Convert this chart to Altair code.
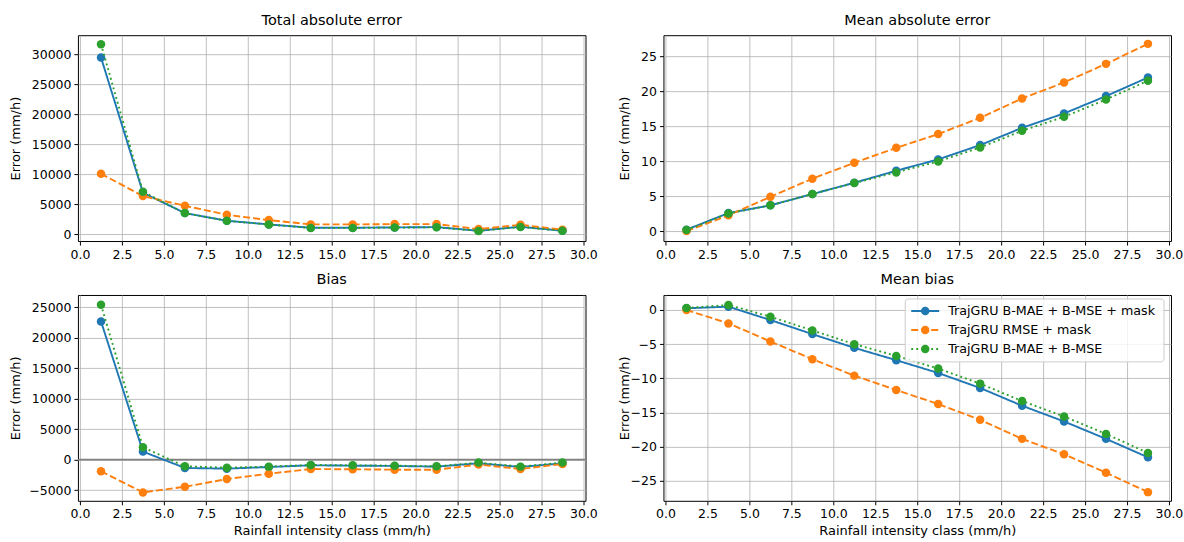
import altair as alt
import pandas as pd

# ---------------- data ----------------
x_classes = [1.25, 3.75, 6.25, 8.75, 11.25, 13.75, 16.25, 18.75, 21.25, 23.75, 26.25, 28.75]
x_ticks = [0, 2.5, 5, 7.5, 10, 12.5, 15, 17.5, 20, 22.5, 25, 27.5, 30]

series_names = ["TrajGRU B-MAE + B-MSE + mask", "TrajGRU RMSE + mask", "TrajGRU B-MAE + B-MSE"]
series_colors = ["#1f77b4", "#ff7f0e", "#2ca02c"]
series_dashes = [[1, 0], [7, 3], [1.9, 3.1]]

tae_blue = [29500, 6950, 3555, 2280, 1670, 1110, 1110, 1170, 1220, 610, 1280, 610]
tae_orange = [10110, 6390, 4780, 3280, 2390, 1670, 1670, 1720, 1720, 890, 1610, 780]
tae_green = [31720, 7110, 3555, 2270, 1650, 1090, 1090, 1140, 1190, 590, 1250, 600]

mae_blue = [0.19, 2.57, 3.67, 5.29, 6.90, 8.62, 10.24, 12.29, 14.76, 16.81, 19.29, 21.95]
mae_orange = [0.0, 2.24, 4.90, 7.48, 9.76, 11.90, 13.86, 16.19, 18.95, 21.24, 23.90, 26.76]
mae_green = [0.14, 2.52, 3.67, 5.29, 6.86, 8.38, 9.95, 11.95, 14.33, 16.33, 18.81, 21.48]

bias_blue = [22690, 1320, -1370, -1480, -1210, -930, -990, -1040, -1150, -600, -1210, -600]
bias_orange = [-1920, -5380, -4450, -3190, -2310, -1540, -1590, -1650, -1650, -820, -1540, -710]
bias_green = [25440, 2030, -1100, -1320, -1150, -880, -930, -990, -1100, -490, -1150, -490]

mb_blue = [0.25, 0.49, -1.47, -3.53, -5.54, -7.35, -9.22, -11.42, -14.02, -16.32, -18.87, -21.57]
mb_orange = [0.0, -1.96, -4.61, -7.21, -9.61, -11.72, -13.77, -16.08, -18.87, -21.13, -23.82, -26.67]
mb_green = [0.29, 0.74, -0.98, -2.99, -5.00, -6.72, -8.58, -10.78, -13.33, -15.59, -18.14, -20.93]

tae_ticks = [0, 5000, 10000, 15000, 20000, 25000, 30000]
mae_ticks = [0, 5, 10, 15, 20, 25]
bias_ticks = [-5000, 0, 5000, 10000, 15000, 20000, 25000]
mb_ticks = [-25, -20, -15, -10, -5, 0]
zero_level = [0]

FONT = "DejaVu Sans"
W, H = 508, 206


def panel(title, values, ydomain, yticks, bottom, left_col, zero_rule=False, legend=False):
    if bottom:
        xaxis = alt.Axis(values=x_ticks, format=".1f", title="Rainfall intensity class (mm/h)",
                         titlePadding=4)
    else:
        xaxis = alt.Axis(values=x_ticks, format=".1f", title=None)
    if left_col:
        yaxis = alt.Axis(values=yticks, format="d", title="Error (mm/h)",
                         minExtent=48, maxExtent=48, titlePadding=7)
    else:
        yaxis = alt.Axis(values=yticks, format="d", title="Error (mm/h)",
                         minExtent=26, maxExtent=26, titlePadding=6)
    xenc = alt.X("x:Q", scale=alt.Scale(domain=[-0.125, 30.125], nice=False, zero=False), axis=xaxis)
    yenc = alt.Y("value:Q", scale=alt.Scale(domain=ydomain, nice=False, zero=False), axis=yaxis)

    layers = []
    for name, vals, col, dash in zip(series_names, values, series_colors, series_dashes):
        df = pd.DataFrame({"x": x_classes, "value": vals, "series": name})
        base = alt.Chart(df)
        layers.append(base.mark_line(color=col, strokeWidth=1.9, strokeDash=dash).encode(x=xenc, y=yenc))
        layers.append(base.mark_circle(color=col, size=72, opacity=1).encode(x=xenc, y=yenc))
    if zero_rule:
        rule = (
            alt.Chart(pd.DataFrame({"value": zero_level}))
            .mark_rule(color="#808080", strokeWidth=1.6)
            .encode(y=yenc)
        )
        layers.insert(0, rule)

    if legend:
        one = pd.DataFrame({"a": [0]})
        layers.append(
            alt.Chart(one).mark_rect(fill="white", fillOpacity=0.8, stroke="#cccccc",
                                     strokeWidth=1, cornerRadius=3)
            .encode(x=alt.value(242), x2=alt.value(501), y=alt.value(4), y2=alt.value(67))
        )
        rows = [16, 35, 54]
        for name, col, dash, ry in zip(series_names, series_colors, series_dashes, rows):
            layers.append(
                alt.Chart(one).mark_rule(color=col, strokeWidth=1.9, strokeDash=dash)
                .encode(x=alt.value(248), x2=alt.value(276), y=alt.value(ry))
            )
            layers.append(
                alt.Chart(one).mark_circle(color=col, size=72, opacity=1)
                .encode(x=alt.value(262), y=alt.value(ry))
            )
            layers.append(
                alt.Chart(one).mark_text(align="left", baseline="middle", fontSize=12.7,
                                         font=FONT, color="black")
                .encode(x=alt.value(285), y=alt.value(ry), text=alt.value(name))
            )

    return alt.layer(*layers).properties(width=W, height=H, title=title)


tl = panel("Total absolute error", [tae_blue, tae_orange, tae_green], [-1100, 33220], tae_ticks,
           bottom=False, left_col=True)
tr = panel("Mean absolute error", [mae_blue, mae_orange, mae_green], [-1.43, 28.0], mae_ticks,
           bottom=False, left_col=False)
bl = panel("Bias", [bias_blue, bias_orange, bias_green], [-6760, 27030], bias_ticks,
           bottom=True, left_col=True, zero_rule=True)
br = panel("Mean bias", [mb_blue, mb_orange, mb_green], [-27.94, 2.2], mb_ticks,
           bottom=True, left_col=False, legend=True)

chart = (
    alt.concat(tl, tr, bl, br, columns=2, spacing={"row": 54, "column": 78}, bounds="flush")
    .properties(padding={"left": 9, "top": 12, "right": 0, "bottom": 0})
    .configure(font=FONT)
    .configure_view(stroke="black", strokeWidth=1)
    .configure_axis(
        labelFont=FONT, titleFont=FONT, labelFontSize=12.5, titleFontSize=13,
        titleFontWeight="normal", labelColor="black", titleColor="black",
        tickColor="black", tickSize=4, tickWidth=1, labelPadding=3,
        gridColor="#b0b0b0", gridWidth=0.8, domain=False, labelOverlap=False,
    )
    .configure_title(font=FONT, fontSize=14.5, fontWeight="normal", color="black", offset=7)
)

chart.save("out.html", embed_options={"renderer": "svg", "actions": False})
